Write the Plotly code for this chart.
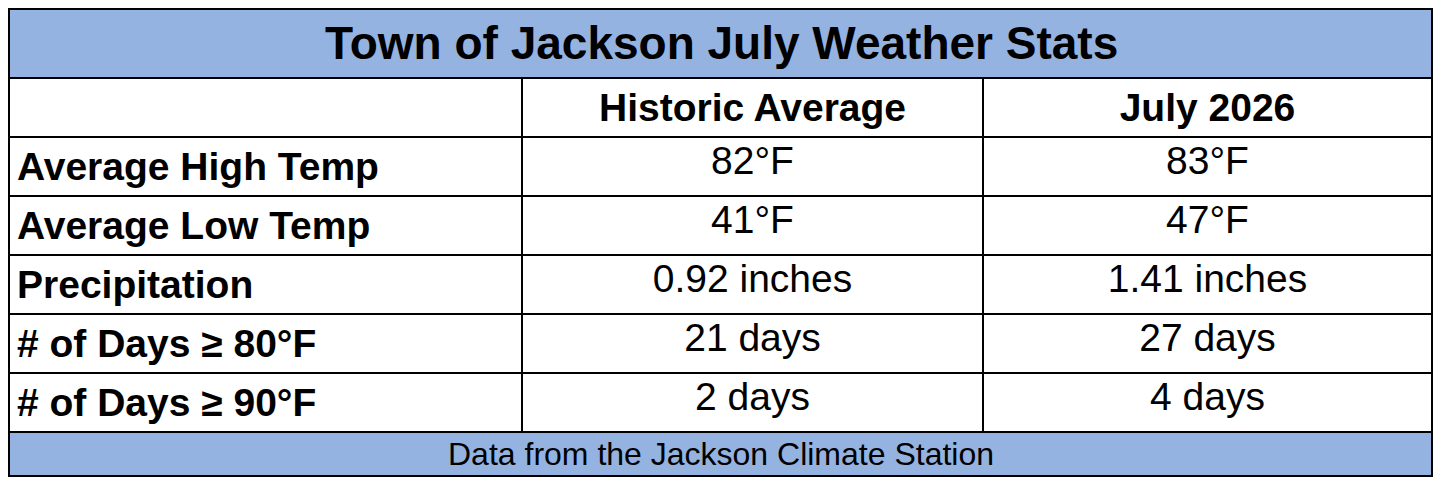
import plotly.graph_objects as go

# the page body adds 8px around the plot, so the figure is drawn 16px smaller
OFF = 8
W, H = 1442 - 2 * OFF, 486 - 2 * OFF

title = 'Town of Jackson July Weather Stats'
footer = 'Data from the Jackson Climate Station'
columns = ['', 'Historic Average', 'July 2026']
rows = [
    ['Average High Temp', '82°F', '83°F'],
    ['Average Low Temp', '41°F', '47°F'],
    ['Precipitation', '0.92 inches', '1.41 inches'],
    ['# of Days ≥ 80°F', '21 days', '27 days'],
    ['# of Days ≥ 90°F', '2 days', '4 days'],
]

blue = '#95B3E0'
top, title_bot, foot_top, bottom = 9, 78, 432, 476
left, right = 9, 1432


def px(x):
    return (x - OFF) / W


def py(y):
    return 1 - (y - OFF) / H


cells = [[f'<b>{c}</b>' for c in columns]] + rows
col_vals = [[r[i] for r in cells] for i in range(3)]
col_vals[0] = [f'<b>{v}</b>' if not v.startswith('<b>') else v for v in col_vals[0]]

row_h = (foot_top - title_bot) / len(cells)

fig = go.Figure(go.Table(
    domain=dict(x=[px(left), px(right)], y=[py(foot_top) - 0.01, py(title_bot)]),
    columnwidth=[522 - left, 983 - 522, right - 983],
    header=dict(values=[''] * 3, height=0, line=dict(width=0), fill_color='white'),
    cells=dict(
        values=col_vals,
        height=row_h,
        align=['left', 'center', 'center'],
        font=dict(family='Liberation Sans, Arial', size=39, color='black'),
        line=dict(color='black', width=2),
        fill_color='white',
    ),
))

fig.add_shape(type='rect', xref='paper', yref='paper', x0=px(left), x1=px(right),
              y0=py(title_bot), y1=py(top), fillcolor=blue, line=dict(color='black', width=2))
fig.add_shape(type='rect', xref='paper', yref='paper', x0=px(left), x1=px(right),
              y0=py(bottom), y1=py(foot_top), fillcolor=blue, line=dict(color='black', width=2))
fig.add_annotation(text=f'<b>{title}</b>', xref='paper', yref='paper', x=0.5,
                   y=py((top + title_bot) / 2), yanchor='middle', showarrow=False,
                   font=dict(family='Liberation Sans, Arial', size=46, color='black'))
fig.add_annotation(text=footer, xref='paper', yref='paper', x=0.5,
                   y=py((foot_top + bottom) / 2), yanchor='middle', showarrow=False,
                   font=dict(family='Liberation Sans, Arial', size=32, color='black'))

fig.update_layout(width=W, height=H, margin=dict(l=0, r=0, t=0, b=0),
                  paper_bgcolor='white', plot_bgcolor='white')
fig.write_html('out.html')
